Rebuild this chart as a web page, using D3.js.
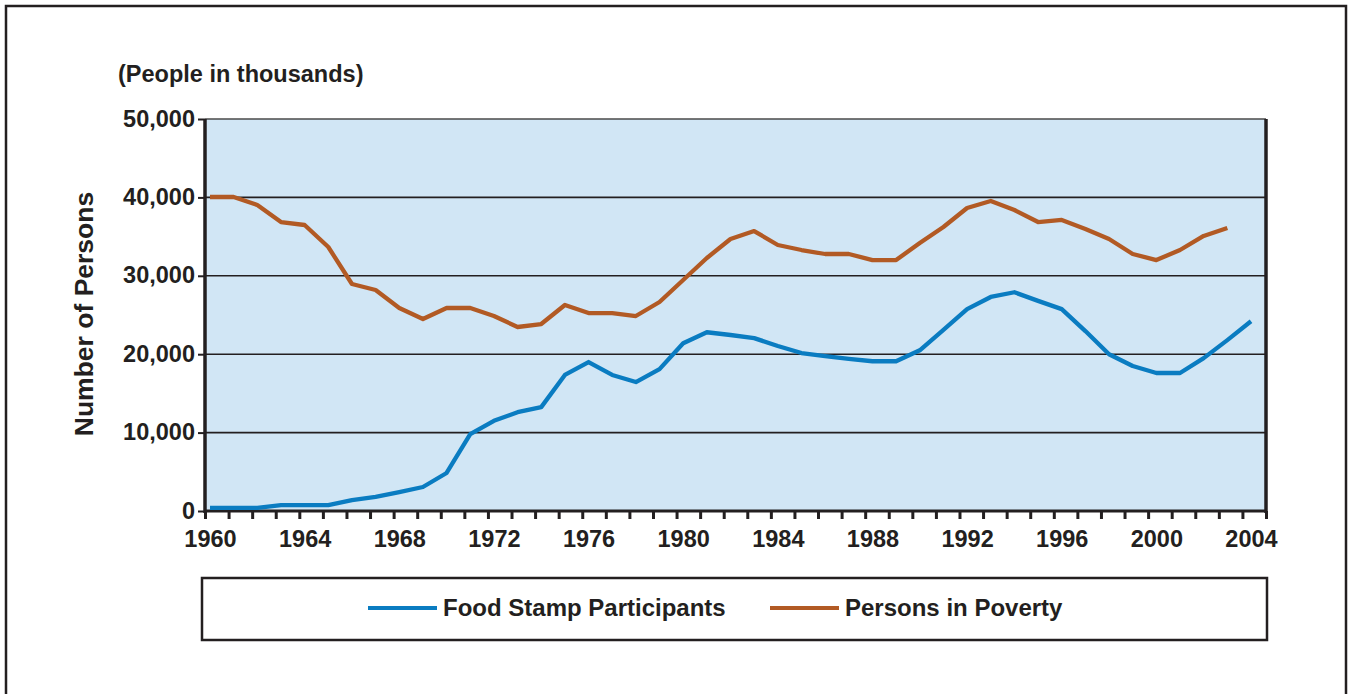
<!DOCTYPE html>
<html>
<head>
<meta charset="utf-8">
<script src="https://cdn.jsdelivr.net/npm/d3@7"></script>
<style>
  body { margin: 0; background: #fff; }
  text { font-family: "Liberation Sans", Arial, sans-serif; font-weight: bold; fill: #231f20; }
</style>
</head>
<body>
<svg width="1348" height="694"></svg>
<script>
const years = d3.range(1960, 2005)
// thousands of persons
const foodStamp = [400, 400, 400, 750, 750, 750, 1400, 1800, 2400, 3060, 4850,
  9800, 11500, 12600, 13250, 17350, 19000, 17350, 16450, 18100, 21400,
  22800, 22450, 22050, 21050, 20150, 19750, 19400, 19100, 19100, 20500,
  23100, 25750, 27300, 27900, 26800, 25750, 22950, 20000, 18500, 17600,
  17600, 19500, 21800, 24200]
const poverty = [40050, 40050, 39030, 36860, 36480, 33670, 28950, 28190, 25890, 24490, 25890,
  25890, 24870, 23470, 23850, 26280, 25250, 25250, 24870, 26660, 29460,
  32270, 34690, 35710, 33930, 33290, 32780, 32780, 32010, 32010, 34180,
  36220, 38650, 39540, 38390, 36860, 37120, 35970, 34690, 32780, 32010,
  33290, 35080, 36100]
const yTicks = [0, 10000, 20000, 30000, 40000, 50000]
const xTickLabels = d3.range(1960, 2005, 4)
const seriesNames = ['Food Stamp Participants', 'Persons in Poverty']
const seriesColors = ['#0a7cc1', '#b25a24']

const svg = d3.select('svg')
const plot = { left: 205, right: 1266, top: 119, bottom: 511 }

// outer frame
svg.append('rect')
  .attr('x', 6).attr('y', 6)
  .attr('width', 1340).attr('height', 700)
  .attr('fill', 'none').attr('stroke', '#231f20').attr('stroke-width', 2.5)

// points sit slightly inside the plot; the minor ticks split it in 45 even steps
const x = d3.scaleLinear().domain([1960, 2004]).range([210, 1251])
const xTick = d3.scaleLinear().domain([0, 45]).range([plot.left, plot.right])
const y = d3.scaleLinear().domain([0, 50000]).range([plot.bottom, plot.top])

svg.append('rect')
  .attr('x', plot.left).attr('y', plot.top)
  .attr('width', plot.right - plot.left).attr('height', plot.bottom - plot.top)
  .attr('fill', '#d1e6f5')

// gridlines
svg.append('g')
  .selectAll('line')
  .data(yTicks.slice(1))
  .enter().append('line')
  .attr('x1', plot.left).attr('x2', plot.right)
  .attr('y1', d => y(d)).attr('y2', d => y(d))
  .attr('stroke', d => d === 50000 ? '#4a4a4a' : '#231f20')
  .attr('stroke-width', 1.6)

// y axis
const yAxis = svg.append('g')
  .attr('transform', `translate(${plot.left},0)`)
  .call(d3.axisLeft(y).tickValues(yTicks).tickSize(7).tickPadding(3).tickFormat(d3.format(',')))
yAxis.select('.domain').remove()
yAxis.selectAll('.tick line').attr('stroke', '#231f20').attr('stroke-width', 2)
yAxis.selectAll('.tick text').attr('font-size', 23.5).attr('dy', '0.3em')

// x minor ticks
const xMinor = svg.append('g')
  .attr('transform', `translate(0,${plot.bottom})`)
  .call(d3.axisBottom(xTick).tickValues(d3.range(0, 46)).tickSize(8).tickFormat(''))
xMinor.select('.domain').remove()
xMinor.selectAll('.tick line').attr('stroke', '#231f20').attr('stroke-width', 3)

// x labels
const xAxis = svg.append('g')
  .attr('transform', `translate(0,${plot.bottom})`)
  .call(d3.axisBottom(x).tickValues(xTickLabels).tickSize(0).tickFormat(d3.format('d')))
xAxis.select('.domain').remove()
xAxis.selectAll('.tick text').attr('font-size', 23.5).attr('y', 36).attr('dy', 0)

// frame lines of plot
svg.append('line').attr('x1', plot.left).attr('x2', plot.left).attr('y1', plot.top).attr('y2', plot.bottom + 2)
  .attr('stroke', '#231f20').attr('stroke-width', 3.5)
svg.append('line').attr('x1', plot.right).attr('x2', plot.right).attr('y1', plot.top).attr('y2', plot.bottom + 2)
  .attr('stroke', '#231f20').attr('stroke-width', 3.5)
svg.append('line').attr('x1', plot.left).attr('x2', plot.right).attr('y1', plot.bottom).attr('y2', plot.bottom)
  .attr('stroke', '#231f20').attr('stroke-width', 3)

const line = d3.line().x(d => x(d[0])).y(d => y(d[1]))
const series = [foodStamp, poverty]
series.forEach((vals, i) => {
  svg.append('path')
    .datum(vals.map((v, j) => [years[j], v]))
    .attr('d', line)
    .attr('fill', 'none')
    .attr('stroke', seriesColors[i])
    .attr('stroke-width', 4.3)
    .attr('stroke-linejoin', 'round')
})

// titles
svg.append('text').attr('x', 118).attr('y', 82).attr('font-size', 23.5).text('(People in thousands)')
svg.append('text')
  .attr('transform', 'translate(93,314) rotate(-90)')
  .attr('text-anchor', 'middle').attr('font-size', 26.5)
  .text('Number of Persons')

// legend
const lg = svg.append('g')
lg.append('rect')
  .attr('x', 202).attr('y', 578).attr('width', 1065).attr('height', 62)
  .attr('fill', '#fff').attr('stroke', '#231f20').attr('stroke-width', 2.5)
const legendX = [368, 770]
seriesNames.forEach((name, i) => {
  lg.append('line')
    .attr('x1', legendX[i]).attr('x2', legendX[i] + 69)
    .attr('y1', 608).attr('y2', 608)
    .attr('stroke', seriesColors[i]).attr('stroke-width', 4)
  lg.append('text')
    .attr('x', legendX[i] + 75).attr('y', 616)
    .attr('font-size', 24)
    .text(name)
})
</script>
</body>
</html>
